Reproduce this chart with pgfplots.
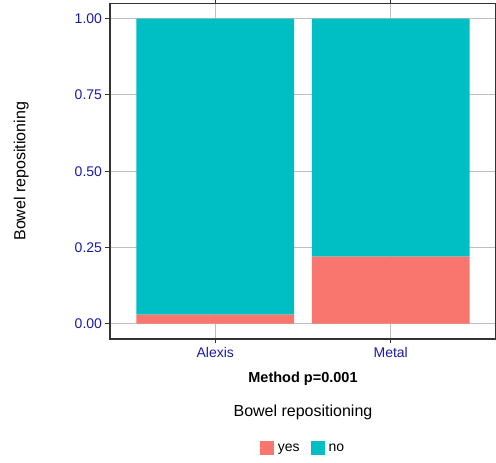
\documentclass[border=0pt]{standalone}
\usepackage{fontspec}
\setmainfont{Liberation Sans}
\usepackage{pgfplots}
\pgfplotsset{compat=1.18}
\definecolor{cyes}{HTML}{F8766D}
\definecolor{cno}{HTML}{00BFC4}
\definecolor{tickblue}{RGB}{26,26,170}
\definecolor{gridgrey}{HTML}{BEBEBE}
\definecolor{axgrey}{HTML}{333333}
\begin{document}
\begin{tikzpicture}
\useasboundingbox (0,0) rectangle (496pt,463pt);
\begin{axis}[
  at={(110pt,124pt)}, anchor=south west,
  scale only axis, width=386pt, height=335.5pt,
  xmin=0.4, xmax=2.6, ymin=-0.05, ymax=1.05,
  ybar stacked, bar width=0.9,
  xtick={1,2}, xticklabels={Alexis,Metal},
  ytick={0,0.25,0.5,0.75,1},
  yticklabel style={/pgf/number format/.cd,fixed,fixed zerofill,precision=2},
  /pgf/number format/assume math mode=true,
  ticklabel style={font=\fontsize{14}{16}\selectfont, text=tickblue},
  tick style={axgrey, line width=1pt},
  tick align=outside, major tick length=4.5pt,
  axis line style={axgrey, line width=1.1pt},
  grid=major, major grid style={gridgrey, line width=1pt},
  axis on top=false,
  xlabel={\textbf{Method p=0.001}},
  xlabel style={font=\fontsize{14.5}{16}\selectfont, at={(axis description cs:0.5,-0.119)}, anchor=center},
  ylabel={Bowel repositioning},
  ylabel style={font=\fontsize{16}{18}\selectfont, at={(axis description cs:-0.23,0.5)}, anchor=center},
  legend columns=2,
  legend style={draw=none, fill=none, at={(axis description cs:0.5,-0.325)}, anchor=center,
    font=\fontsize{14}{16}\selectfont, /tikz/every even column/.append style={column sep=9pt}},
  legend image code/.code={\path[#1,draw=none] (0pt,-6.5pt) rectangle (14pt,7.5pt); \path (16pt,0pt);},
  clip=false,
]
\addplot[fill=cyes, draw=none] coordinates {(1,0.03) (2,0.22)};
\addlegendentry{yes}
\addplot[fill=cno, draw=none] coordinates {(1,0.97) (2,0.78)};
\addlegendentry{no}
\node[font=\fontsize{16}{18}\selectfont, anchor=center] at (axis description cs:0.5,-0.22) {Bowel repositioning};
\end{axis}
\end{tikzpicture}
\end{document}
